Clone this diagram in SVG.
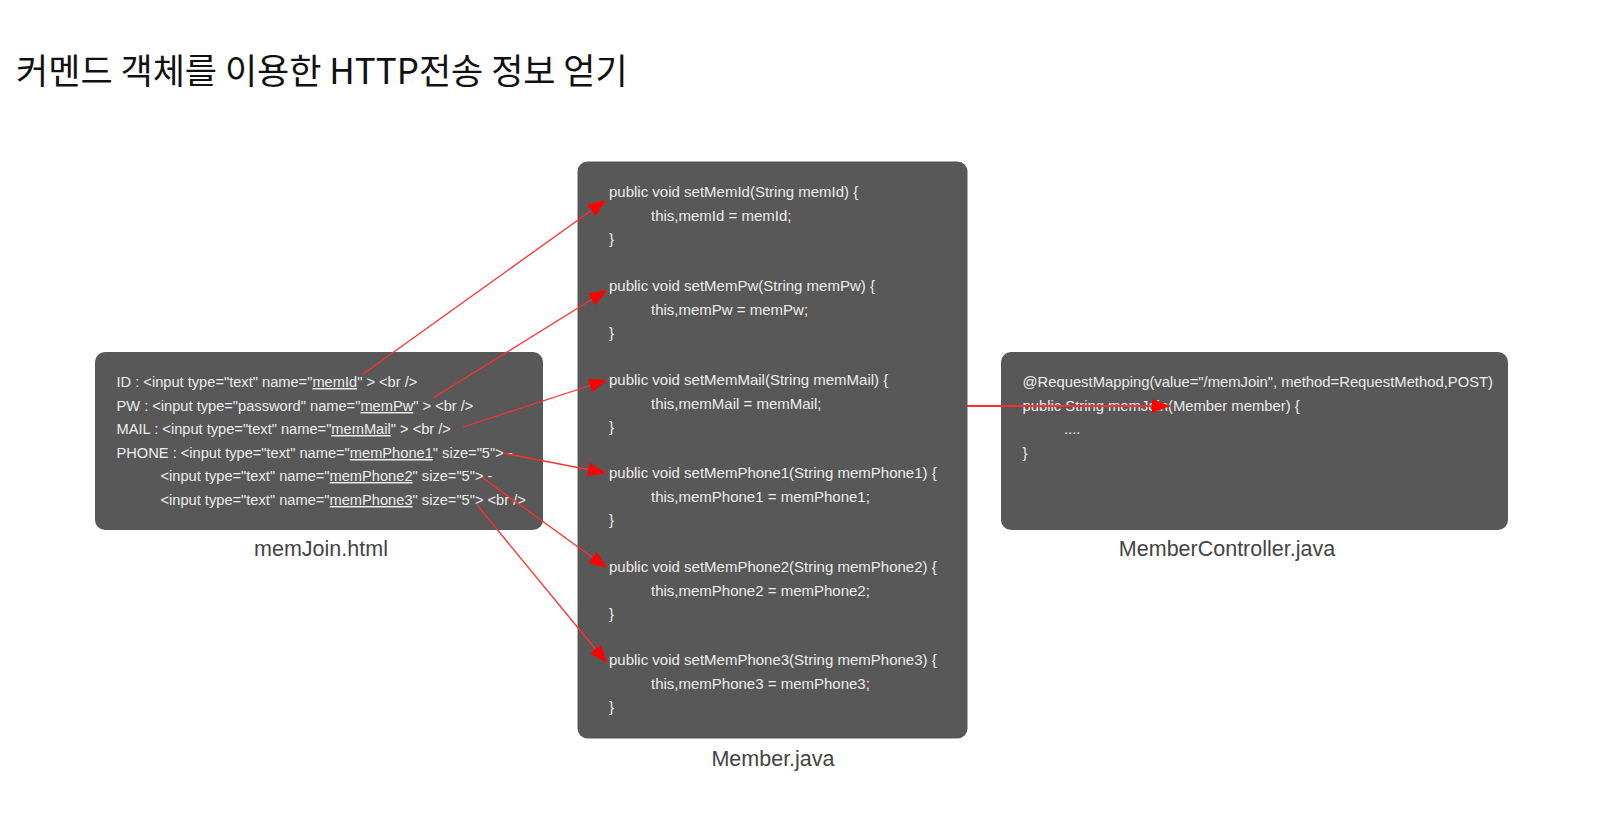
<svg xmlns="http://www.w3.org/2000/svg" width="1603" height="828" viewBox="0 0 1603 828">
<defs>
<style>
.box{fill:#585858;}
.code{font-family:"Liberation Sans","Noto Sans CJK KR",sans-serif;font-size:15px;fill:#ececec;}
.codel{font-size:14.65px;}
.codec{font-size:14.8px;}
.u{text-decoration:underline;}
.label{font-family:"Liberation Sans","Noto Sans CJK KR",sans-serif;font-size:21.5px;fill:#444;text-anchor:middle;}
.title{font-family:"Noto Sans CJK KR",sans-serif;font-size:35px;font-weight:400;fill:#111;}
.conn{stroke:#ff3030;stroke-width:1.3;fill:none;marker-end:url(#ah);}
</style>
<marker id="ah" markerUnits="userSpaceOnUse" markerWidth="20" markerHeight="14" refX="18" refY="7" orient="auto">
<path d="M0,0 L18,7 L0,14 Z" fill="#ff0000"/>
</marker>
</defs>
<rect width="1603" height="828" fill="#ffffff"/>
<text class="title" x="16" y="84">커멘드 객체를 이용한 HTTP전송 정보 얻기</text>

<g id="memJoin">
<rect class="box" x="95" y="352" width="448" height="178" rx="10"/>
<text class="code codel" x="116.5" y="387">ID : &lt;input type="text" name="<tspan class="u">memId</tspan>" &gt; &lt;br /&gt;</text>
<text class="code codel" x="116.5" y="411">PW : &lt;input type="password" name="<tspan class="u">memPw</tspan>" &gt; &lt;br /&gt;</text>
<text class="code codel" x="116.5" y="434">MAIL : &lt;input type="text" name="<tspan class="u">memMail</tspan>" &gt; &lt;br /&gt;</text>
<text class="code codel" x="116.5" y="458">PHONE : &lt;input type="text" name="<tspan class="u">memPhone1</tspan>" size="5"&gt; -</text>
<text class="code codel" x="160.5" y="481">&lt;input type="text" name="<tspan class="u">memPhone2</tspan>" size="5"&gt; -</text>
<text class="code codel" x="160.5" y="505">&lt;input type="text" name="<tspan class="u">memPhone3</tspan>" size="5"&gt; &lt;br /&gt;</text>
<text class="label" x="321" y="556">memJoin.html</text>
</g>

<g id="member">
<rect class="box" x="577.5" y="161.5" width="390" height="577" rx="10"/>
<text class="code" x="609" y="197">public void setMemId(String memId) {</text>
<text class="code" x="651" y="221">this,memId = memId;</text>
<text class="code" x="609" y="244">}</text>
<text class="code" x="609" y="291">public void setMemPw(String memPw) {</text>
<text class="code" x="651" y="315">this,memPw = memPw;</text>
<text class="code" x="609" y="338">}</text>
<text class="code" x="609" y="385">public void setMemMail(String memMail) {</text>
<text class="code" x="651" y="409">this,memMail = memMail;</text>
<text class="code" x="609" y="432">}</text>
<text class="code" x="609" y="478">public void setMemPhone1(String memPhone1) {</text>
<text class="code" x="651" y="502">this,memPhone1 = memPhone1;</text>
<text class="code" x="609" y="525">}</text>
<text class="code" x="609" y="572">public void setMemPhone2(String memPhone2) {</text>
<text class="code" x="651" y="596">this,memPhone2 = memPhone2;</text>
<text class="code" x="609" y="619">}</text>
<text class="code" x="609" y="665">public void setMemPhone3(String memPhone3) {</text>
<text class="code" x="651" y="689">this,memPhone3 = memPhone3;</text>
<text class="code" x="609" y="712">}</text>
<text class="label" x="773" y="766">Member.java</text>
</g>

<g id="controller">
<rect class="box" x="1001" y="352" width="507" height="178" rx="10"/>
<text class="code codec" x="1022.5" y="387">@RequestMapping(value="/memJoin", method=RequestMethod,POST)</text>
<text class="code codec" x="1022.5" y="411">public String memJoin(Member member) {</text>
<text class="code codec" x="1064" y="434">....</text>
<text class="code codec" x="1022.5" y="458">}</text>
<text class="label" x="1227" y="556">MemberController.java</text>
</g>

<g id="connectors">
<line class="conn" x1="363" y1="374" x2="606" y2="200"/>
<line class="conn" x1="433" y1="398" x2="607" y2="290"/>
<line class="conn" x1="463" y1="427" x2="607" y2="380"/>
<line class="conn" x1="503" y1="453" x2="606" y2="473"/>
<line class="conn" x1="483" y1="478" x2="607" y2="568"/>
<line class="conn" x1="477" y1="505" x2="607" y2="663"/>
<line class="conn" x1="967" y1="406" x2="1170" y2="406" style="stroke-width:2.2"/>
</g>
</svg>
